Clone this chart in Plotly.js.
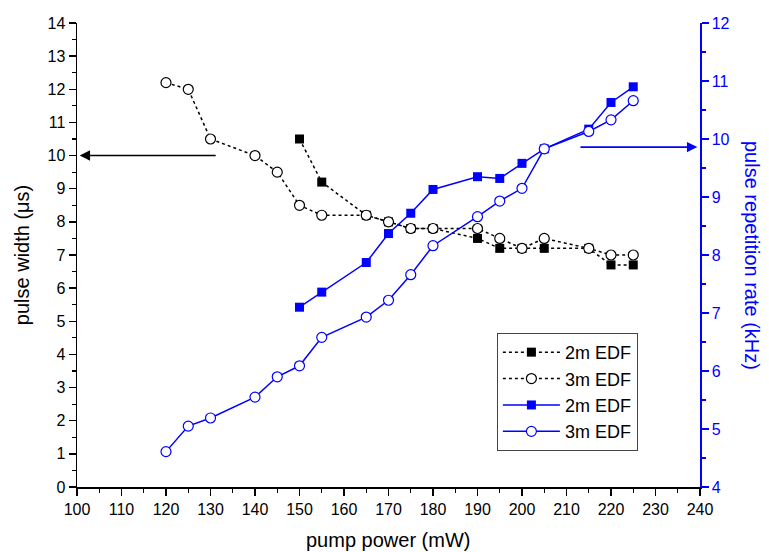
<!DOCTYPE html>
<html>
<head>
<meta charset="utf-8">
<script src="https://cdn.plot.ly/plotly-3.0.1.min.js"></script>
<style>html,body{margin:0;padding:0;background:#fff;}#chart{width:769px;height:552px;}</style>
</head>
<body>
<div id="chart"></div>
<script>
// pump power (mW)
const pump2m = [150,155,165,170,175,180,190,195,200,205,215,220,225];
const pump3m = [120,125,130,140,145,150,155,165,170,175,180,190,195,200,205,215,220,225];
// pulse width (us)
const width2m = [10.5,9.2,8.2,8.0,7.8,7.8,7.5,7.2,7.2,7.2,7.2,6.7,6.7];
const width3m = [12.2,12.0,10.5,10.0,9.5,8.5,8.2,8.2,8.0,7.8,7.8,7.8,7.5,7.2,7.5,7.2,7.0,7.0];
// pulse repetition rate (kHz)
const rate2m = [7.10,7.36,7.87,8.37,8.72,9.13,9.35,9.32,9.58,9.83,10.17,10.63,10.90];
const rate3m = [4.61,5.05,5.19,5.55,5.90,6.09,6.58,6.93,7.22,7.66,8.16,8.66,8.93,9.15,9.83,10.13,10.33,10.66];
const seriesNames = ["2m EDF","3m EDF","2m EDF","3m EDF"];
const titles = {x: "pump power (mW)", y: "pulse width (μs)", y2: "pulse repetition rate (kHz)"};

const FONT = "Liberation Sans, Arial, sans-serif";
const BLUE = "#0000ff";

const traces = [
  {x: pump2m, y: width2m, name: seriesNames[0], mode: "lines+markers", yaxis: "y",
   line: {color: "#000", width: 1.5, dash: "dot"},
   marker: {symbol: "square", size: 9, color: "#000"}},
  {x: pump3m, y: width3m, name: seriesNames[1], mode: "lines+markers", yaxis: "y",
   line: {color: "#000", width: 1.5, dash: "dot"},
   marker: {symbol: "circle", size: 10, color: "#fff", line: {color: "#000", width: 1.2}}},
  {x: pump2m, y: rate2m, name: seriesNames[2], mode: "lines+markers", yaxis: "y2",
   line: {color: BLUE, width: 1.5},
   marker: {symbol: "square", size: 9, color: BLUE}},
  {x: pump3m, y: rate3m, name: seriesNames[3], mode: "lines+markers", yaxis: "y2",
   line: {color: BLUE, width: 1.5},
   marker: {symbol: "circle", size: 10, color: "#fff", line: {color: BLUE, width: 1.2}}}
];

const layout = {
  width: 769, height: 552,
  margin: {l: 77, r: 69, t: 23, b: 65},
  paper_bgcolor: "#fff", plot_bgcolor: "#fff",
  font: {family: FONT, size: 16, color: "#000"},
  showlegend: true,
  legend: {x: 0.674, y: 0.332, xanchor: "left", yanchor: "top",
    bordercolor: "#444", borderwidth: 1, bgcolor: "#fff", itemwidth: 57,
    font: {family: FONT, size: 18, color: "#000"}, tracegroupgap: 0},
  xaxis: {
    range: [100, 240], dtick: 10, tick0: 100,
    showgrid: false, zeroline: false,
    showline: true, linecolor: "#000", linewidth: 1.5,
    ticks: "outside", ticklen: 7, tickwidth: 1.5, tickcolor: "#000",
    minor: {dtick: 5, ticks: "outside", ticklen: 4, tickwidth: 1.2, tickcolor: "#000", showgrid: false},
    tickfont: {family: FONT, size: 16}
  },
  xaxis2: {
    matches: "x", overlaying: "x", side: "top", anchor: "y",
    range: [100, 240], dtick: 10, tick0: 100,
    showgrid: false, zeroline: false, showticklabels: false,
    showline: true, linecolor: "#000", linewidth: 1.5,
    ticks: "inside", ticklen: 7, tickwidth: 1.5, tickcolor: "#000",
    minor: {dtick: 5, ticks: "inside", ticklen: 4, tickwidth: 1.2, tickcolor: "#000", showgrid: false}
  },
  yaxis: {
    range: [0, 14], dtick: 1, tick0: 0,
    showgrid: false, zeroline: false,
    showline: true, linecolor: "#000", linewidth: 1.5,
    ticks: "outside", ticklen: 7, tickwidth: 1.5, tickcolor: "#000",
    minor: {dtick: 0.5, ticks: "outside", ticklen: 4, tickwidth: 1.2, tickcolor: "#000", showgrid: false},
    tickfont: {family: FONT, size: 16}
  },
  yaxis2: {
    overlaying: "y", side: "right", anchor: "x",
    range: [4, 12], dtick: 1, tick0: 4,
    showgrid: false, zeroline: false,
    showline: true, linecolor: BLUE, linewidth: 1.5,
    ticks: "outside", ticklen: 7, tickwidth: 1.5, tickcolor: BLUE,
    minor: {dtick: 0.5, ticks: "outside", ticklen: 4, tickwidth: 1.2, tickcolor: BLUE, showgrid: false},
    tickfont: {family: FONT, size: 16, color: BLUE}
  },
  annotations: [
    {xref: "paper", yref: "paper", x: 0.4992, y: -0.114, xanchor: "center", yanchor: "middle",
     text: titles.x, showarrow: false, font: {family: FONT, size: 20, color: "#000"}},
    {xref: "paper", yref: "paper", x: -0.088, y: 0.5, xanchor: "center", yanchor: "middle",
     text: titles.y, textangle: -90, showarrow: false, font: {family: FONT, size: 20, color: "#000"}},
    {xref: "paper", yref: "paper", x: 1.0835, y: 0.5, xanchor: "center", yanchor: "middle",
     text: titles.y2, textangle: 90, showarrow: false, font: {family: FONT, size: 20, color: BLUE}},
    {xref: "x", yref: "y", x: 100.6, y: 10, axref: "x", ayref: "y", ax: 131.5, ay: 10,
     text: "", showarrow: true, arrowhead: 2, arrowsize: 1.3, arrowwidth: 1.6, arrowcolor: "#000"},
    {xref: "x", yref: "y2", x: 239.4, y: 9.86, axref: "x", ayref: "y2", ax: 212.8, ay: 9.86,
     text: "", showarrow: true, arrowhead: 2, arrowsize: 1.3, arrowwidth: 1.6, arrowcolor: BLUE}
  ]
};

Plotly.newPlot("chart", traces, layout, {displayModeBar: false, staticPlot: true});
</script>
</body>
</html>
